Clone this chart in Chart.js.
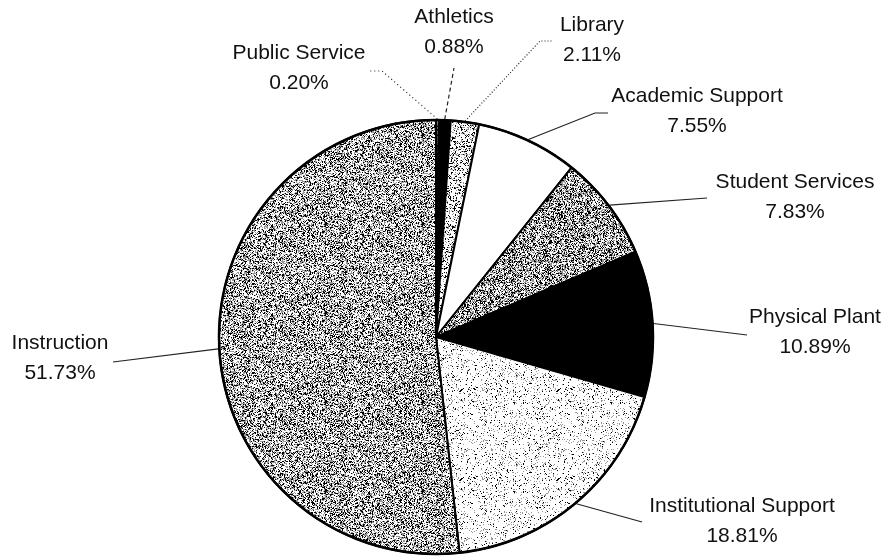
<!DOCTYPE html>
<html><head><meta charset="utf-8">
<script src="https://cdn.jsdelivr.net/npm/chart.js@4"></script>
<style>html,body{margin:0;padding:0;background:#fff;}#wrap{width:887px;height:556px;}</style>
</head><body><div id="wrap"><canvas id="c" width="887" height="556"></canvas></div>
<script>
// ---- data ----
const categories = ['Public Service','Athletics','Library','Academic Support','Student Services','Physical Plant','Institutional Support','Instruction'];
const percentages = [0.20, 0.88, 2.11, 7.55, 7.83, 10.89, 18.81, 51.73];
const valueLabels = ['0.20%','0.88%','2.11%','7.55%','7.83%','10.89%','18.81%','51.73%'];

// ---- label layout (annotation placement) ----
const labelCenters = [[299,53],[454,17],[592,25],[697,96],[795,182],[815,317],[742,506],[60,343]];
const leaderPaths = [
  [[382,71],[370,71]],
  [[454,68]],
  [[540,41],[553,41]],
  [[595,113],[608,113]],
  [[707,198]],
  [[747,335]],
  [[642,522]],
  [[113,362]]
];
const leaderDash = [[1,3],[4,3],[1,2],[],[],[],[],[]];

// ---- stipple textures ----
function hash(x, y, s) {
  let h = (Math.imul(x, 374761393) + Math.imul(y, 668265263) + Math.imul(s, 1442695041)) | 0;
  h = Math.imul(h ^ (h >>> 13), 1274126177);
  h = h ^ (h >>> 16);
  return (h >>> 0) / 4294967296;
}
function makePattern(blackP, grayP, seed) {
  const w = 97, h = 89;
  const cv = document.createElement('canvas');
  cv.width = w; cv.height = h;
  const cx = cv.getContext('2d');
  const img = cx.createImageData(w, h);
  for (let y = 0; y < h; y++) for (let x = 0; x < w; x++) {
    const r = hash(x, y, seed);
    let v = 255;
    if (r < blackP) v = 0; else if (r < blackP + grayP) v = 150;
    const i = (y * w + x) * 4;
    img.data[i] = img.data[i+1] = img.data[i+2] = v; img.data[i+3] = 255;
  }
  cx.putImageData(img, 0, 0);
  return cx.createPattern(cv, 'repeat');
}
const ctx0 = document.getElementById('c').getContext('2d');
const fills = [
  makePattern(0.12, 0.12, 1),   // Public Service
  '#000000',                    // Athletics
  makePattern(0.18, 0.16, 3),   // Library
  '#ffffff',                    // Academic Support
  makePattern(0.28, 0.32, 5),   // Student Services
  '#000000',                    // Physical Plant
  makePattern(0.05, 0.10, 7),   // Institutional Support
  makePattern(0.25, 0.30, 9)    // Instruction
];

const labelPlugin = {
  id: 'pieLabels',
  afterDraw(chart) {
    const ctx = chart.ctx;
    const meta = chart.getDatasetMeta(0);
    ctx.save();
    meta.data.forEach((arc, i) => {
      const p = arc.getProps(['x','y','startAngle','endAngle','outerRadius'], true);
      const mid = (p.startAngle + p.endAngle) / 2;
      const sx = p.x + Math.cos(mid) * (p.outerRadius + 1);
      const sy = p.y + Math.sin(mid) * (p.outerRadius + 1);
      ctx.beginPath();
      ctx.setLineDash(leaderDash[i]);
      ctx.lineWidth = 1.2;
      ctx.strokeStyle = '#222';
      ctx.moveTo(sx, sy);
      leaderPaths[i].forEach(pt => ctx.lineTo(pt[0], pt[1]));
      ctx.stroke();
      ctx.setLineDash([]);
      ctx.fillStyle = '#111';
      ctx.font = '21px "Liberation Sans", Arial, sans-serif';
      ctx.textAlign = 'center';
      ctx.textBaseline = 'middle';
      const [lx, ly] = labelCenters[i];
      ctx.fillText(categories[i], lx, ly);
      ctx.fillText(valueLabels[i], lx, ly + 30);
    });
    // heavier outer rim like the original
    const a0 = meta.data[0].getProps(['x','y','outerRadius'], true);
    ctx.beginPath();
    ctx.lineWidth = 2.5;
    ctx.strokeStyle = '#000';
    ctx.arc(a0.x, a0.y, a0.outerRadius, 0, Math.PI * 2);
    ctx.stroke();
    ctx.restore();
  }
};

new Chart(ctx0, {
  type: 'pie',
  data: {
    labels: categories,
    datasets: [{
      data: percentages,
      backgroundColor: fills,
      borderColor: '#000',
      borderWidth: 2,
      radius: 217
    }]
  },
  options: {
    responsive: false,
    animation: false,
    events: [],
    layout: { padding: { top: 118, bottom: 0, left: 0, right: 15 } },
    plugins: { legend: { display: false }, tooltip: { enabled: false } }
  },
  plugins: [labelPlugin]
});
</script>
</body></html>
